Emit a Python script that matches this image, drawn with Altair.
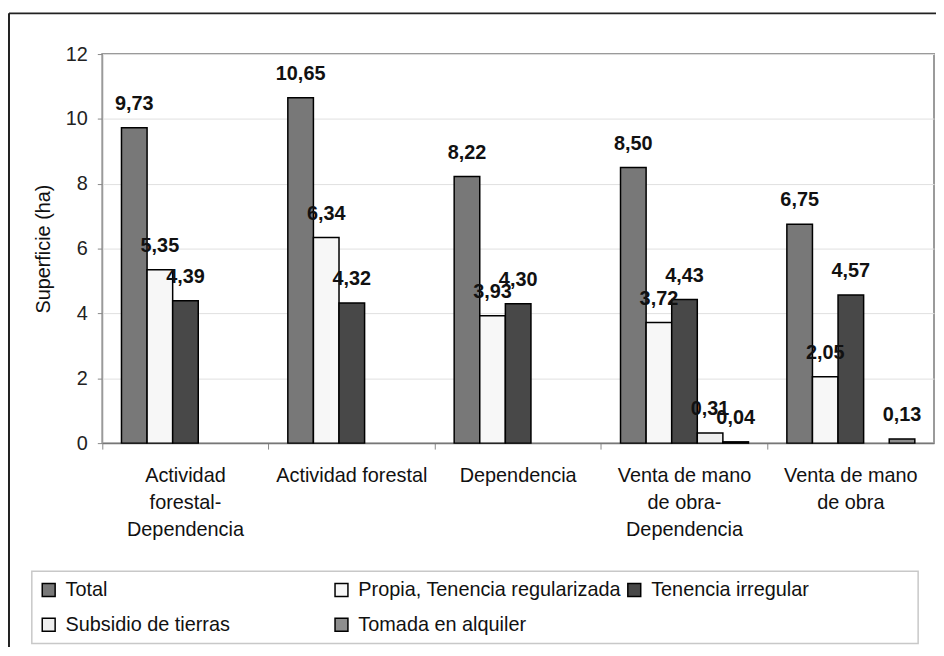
import altair as alt
import pandas as pd

# ---- data ----
categories = [
    "Actividad\nforestal-\nDependencia",
    "Actividad forestal",
    "Dependencia",
    "Venta de mano\nde obra-\nDependencia",
    "Venta de mano\nde obra",
]
series = [
    "Total",
    "Propia, Tenencia regularizada",
    "Tenencia irregular",
    "Subsidio de tierras",
    "Tomada en alquiler",
]
total = [9.73, 10.65, 8.22, 8.50, 6.75]
propia = [5.35, 6.34, 3.93, 3.72, 2.05]
irregular = [4.39, 4.32, 4.30, 4.43, 4.57]
subsidio = [None, None, None, 0.31, None]
alquiler = [None, None, None, 0.04, 0.13]
colors = ["#787878", "#f7f7f7", "#484848", "#eeeeee", "#8e8e8e"]
y_ticks = [0, 2, 4, 6, 8, 10, 12]

rows = []
for s, vals in zip(series, [total, propia, irregular, subsidio, alquiler]):
    for c, v in zip(categories, vals):
        if v is not None:
            rows.append({"grupo": c, "serie": s, "valor": v,
                         "etiqueta": f"{v:.2f}".replace(".", ",")})
df = pd.DataFrame(rows)

FONT = "Liberation Sans"

x_enc = alt.X(
    "grupo:N", sort=categories, title=None,
    scale=alt.Scale(paddingInner=0, paddingOuter=0),
    axis=alt.Axis(labelExpr="split(datum.value, '\\n')", labelAngle=0,
                  labelFontSize=20, labelFont=FONT, labelColor="#111",
                  labelLineHeight=27, labelPadding=17, tickSize=6,
                  tickColor="#888", bandPosition=0, grid=False,
                  domainColor="#777", domainWidth=1.5),
)
xo_enc = alt.XOffset("serie:N", sort=series,
                     scale=alt.Scale(paddingInner=0, paddingOuter=0.75))
y_enc = alt.Y(
    "valor:Q",
    scale=alt.Scale(domain=[0, 12], nice=False),
    axis=alt.Axis(values=y_ticks, title="Superficie (ha)", titleFontSize=20,
                  titleFont=FONT, titleFontWeight="normal", titleColor="#111",
                  titlePadding=12, labelFontSize=20, labelFont=FONT,
                  labelColor="#222", labelPadding=10, tickSize=5,
                  tickColor="#888", domain=False, gridColor="#e0e0e0",
                  gridWidth=1),
)

labels = alt.Chart(df).mark_text(
    dy=-18, baseline="alphabetic", fontSize=20, fontWeight="bold",
    font=FONT, color="#111"
).encode(x=x_enc, xOffset=xo_enc, y=y_enc, text="etiqueta:N")

bars = alt.Chart(df).mark_bar(stroke="black", strokeWidth=1.5).encode(
    x=x_enc, xOffset=xo_enc, y=y_enc,
    fill=alt.Fill(
        "serie:N", sort=series,
        scale=alt.Scale(domain=series, range=colors),
        legend=alt.Legend(
            title=None, orient="none", legendX=-64, legendY=530, columns=3,
            direction="horizontal",
            gridAlign="all", columnPadding=3, rowPadding=15,
            symbolType="square", symbolSize=169, symbolStrokeColor="black",
            symbolStrokeWidth=1.5, labelFontSize=20, labelFont=FONT,
            labelColor="#111", labelOffset=7, labelLimit=400, padding=0,
        ),
    ),
)

one = alt.Data(values=[{"k": 1}])
legend_box = alt.Chart(one).mark_rect(
    fill="white", stroke="#c8c8c8", strokeWidth=1.5
).encode(x=alt.value(-71), x2=alt.value(822), y=alt.value(521), y2=alt.value(594))
frame_top = alt.Chart(one).mark_rule(color="#222", strokeWidth=2).encode(
    x=alt.value(-94), x2=alt.value(845), y=alt.value(-41))
frame_left = alt.Chart(one).mark_rule(color="#222", strokeWidth=2).encode(
    x=alt.value(-94), y=alt.value(-41), y2=alt.value(600))

chart = alt.layer(frame_top, frame_left, legend_box, bars, labels).properties(
    width=838, height=392,
    autosize=alt.AutoSizeParams(type="none"),
    padding={"left": 95, "top": 44, "right": 2, "bottom": 203},
    background="white",
).configure_view(stroke="#9a9a9a", strokeWidth=2)

chart.save("out.html", embed_options={"renderer": "svg", "actions": False})
